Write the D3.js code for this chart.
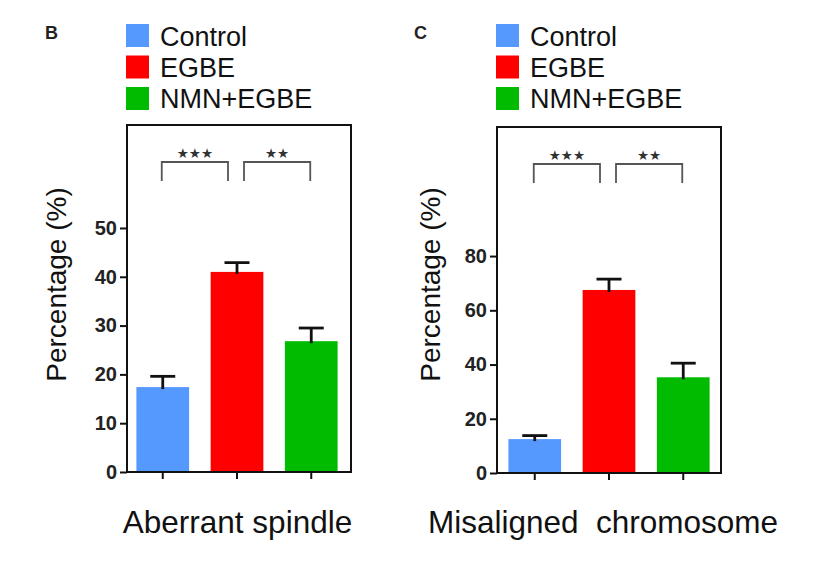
<!DOCTYPE html>
<html>
<head>
<meta charset="utf-8">
<script src="https://cdn.jsdelivr.net/npm/d3@7"></script>
<style>
  html, body { margin: 0; padding: 0; background: #fff; }
  svg { display: block; font-family: "Liberation Sans", Arial, Helvetica, sans-serif; }
</style>
</head>
<body>
<svg id="chart" width="828" height="563"></svg>
<script>
// ---- data ----
const groups = ["Control", "EGBE", "NMN+EGBE"];
const colors = ["#5599ff", "#ff0000", "#00bb00"];
const spindleMeans = [17.4, 41.0, 26.8];
const spindleErrors = [2.2, 1.9, 2.7];
const chromosomeMeans = [12.5, 67.5, 35.3];
const chromosomeErrors = [1.3, 4.0, 5.2];
const spindleTicks = [0, 10, 20, 30, 40, 50];
const chromosomeTicks = [0, 20, 40, 60, 80];
const significance = ["***", "**"];
const panels = [
  { letter: "B", xLabel: "Aberrant spindle", means: spindleMeans, errors: spindleErrors,
    ticks: spindleTicks, yMax: 71.1, left: 127, right: 351, bandLeft: 126, bandRight: 348,
    bottom: 472, top: 125, letterX: 45, labelX: 66, xLabelX: 237.5 },
  { letter: "C", xLabel: "Misaligned\u00a0 chromosome", means: chromosomeMeans, errors: chromosomeErrors,
    ticks: chromosomeTicks, yMax: 127.6, left: 497, right: 721, bandLeft: 498, bandRight: 720,
    bottom: 473, top: 127, letterX: 414, labelX: 440, xLabelX: 603 }
];

const svg = d3.select("#chart");

panels.forEach(p => {
  const g = svg.append("g");
  const y = d3.scaleLinear().domain([0, p.yMax]).range([p.bottom, p.top]);
  const x = d3.scaleBand().domain(groups).range([p.bandLeft, p.bandRight])
    .paddingInner(0.29).paddingOuter(0.14);

  // panel letter
  g.append("text").attr("x", p.letterX).attr("y", 39)
    .attr("font-size", 18).attr("font-weight", "bold").attr("fill", "#222").text(p.letter);

  // legend
  const lg = g.append("g");
  groups.forEach((name, i) => {
    lg.append("rect").attr("x", p.left - 1).attr("y", 24 + i * 31.5)
      .attr("width", 23).attr("height", 23).attr("fill", colors[i]);
    lg.append("text").attr("x", p.left + 33).attr("y", 46 + i * 31.2)
      .attr("font-size", 27).attr("fill", "#111").text(name);
  });

  // bars
  g.selectAll("rect.bar").data(p.means).enter().append("rect")
    .attr("class", "bar")
    .attr("x", (d, i) => x(groups[i]))
    .attr("width", x.bandwidth())
    .attr("y", d => y(d))
    .attr("height", d => y(0) - y(d))
    .attr("fill", (d, i) => colors[i]);

  // error bars
  p.means.forEach((m, i) => {
    const cx = x(groups[i]) + x.bandwidth() / 2;
    g.append("line").attr("x1", cx).attr("x2", cx)
      .attr("y1", y(m) + 2).attr("y2", y(m + p.errors[i]))
      .attr("stroke", "#111").attr("stroke-width", 2.8);
    g.append("line").attr("x1", cx - 12.5).attr("x2", cx + 12.5)
      .attr("y1", y(m + p.errors[i])).attr("y2", y(m + p.errors[i]))
      .attr("stroke", "#111").attr("stroke-width", 2.8);
  });

  // frame
  g.append("rect").attr("x", p.left).attr("y", p.top)
    .attr("width", p.right - p.left).attr("height", p.bottom - p.top)
    .attr("fill", "none").attr("stroke", "#111").attr("stroke-width", 2);

  // y axis
  const yAxis = d3.axisLeft(y).tickValues(p.ticks).tickSize(7).tickPadding(3);
  const ya = g.append("g").attr("transform", `translate(${p.left},0)`).call(yAxis);
  ya.attr("font-size", 20).attr("font-family", "Liberation Sans, Arial, sans-serif");
  ya.select(".domain").remove();
  ya.selectAll(".tick line").attr("stroke", "#111").attr("stroke-width", 2);
  ya.selectAll(".tick text").attr("font-size", 20).attr("font-weight", "bold")
    .attr("fill", "#222");

  // x axis ticks
  const xAxis = d3.axisBottom(x).tickSize(7).tickFormat("");
  const xa = g.append("g").attr("transform", `translate(0,${p.bottom})`).call(xAxis);
  xa.select(".domain").remove();
  xa.selectAll(".tick line").attr("stroke", "#111").attr("stroke-width", 2);

  // y label
  g.append("text")
    .attr("transform", `translate(${p.labelX},284.5) rotate(-90)`)
    .attr("text-anchor", "middle").attr("font-size", 28).attr("fill", "#111")
    .text("Percentage (%)");

  // x label
  g.append("text").attr("x", p.xLabelX).attr("y", 533)
    .attr("text-anchor", "middle").attr("font-size", 31.5).attr("fill", "#111")
    .text(p.xLabel);

  // significance brackets
  const c = groups.map(k => x(k) + x.bandwidth() / 2);
  const brackets = [[c[0] - 1, c[1] - 9], [c[1] + 7, c[2] - 1]];
  brackets.forEach((b, i) => {
    g.append("path")
      .attr("d", `M${b[0]},${p.top + 56} V${p.top + 37} H${b[1]} V${p.top + 56}`)
      .attr("fill", "none").attr("stroke", "#555").attr("stroke-width", 1.8);
    g.append("text").attr("x", (b[0] + b[1]) / 2).attr("y", p.top + 33)
      .attr("text-anchor", "middle").attr("font-size", 13.5).attr("fill", "#333")
      .attr("font-family", "DejaVu Sans, sans-serif")
      .text(significance[i].replace(/\*/g, "\u2605"));
  });
});
</script>
</body>
</html>
